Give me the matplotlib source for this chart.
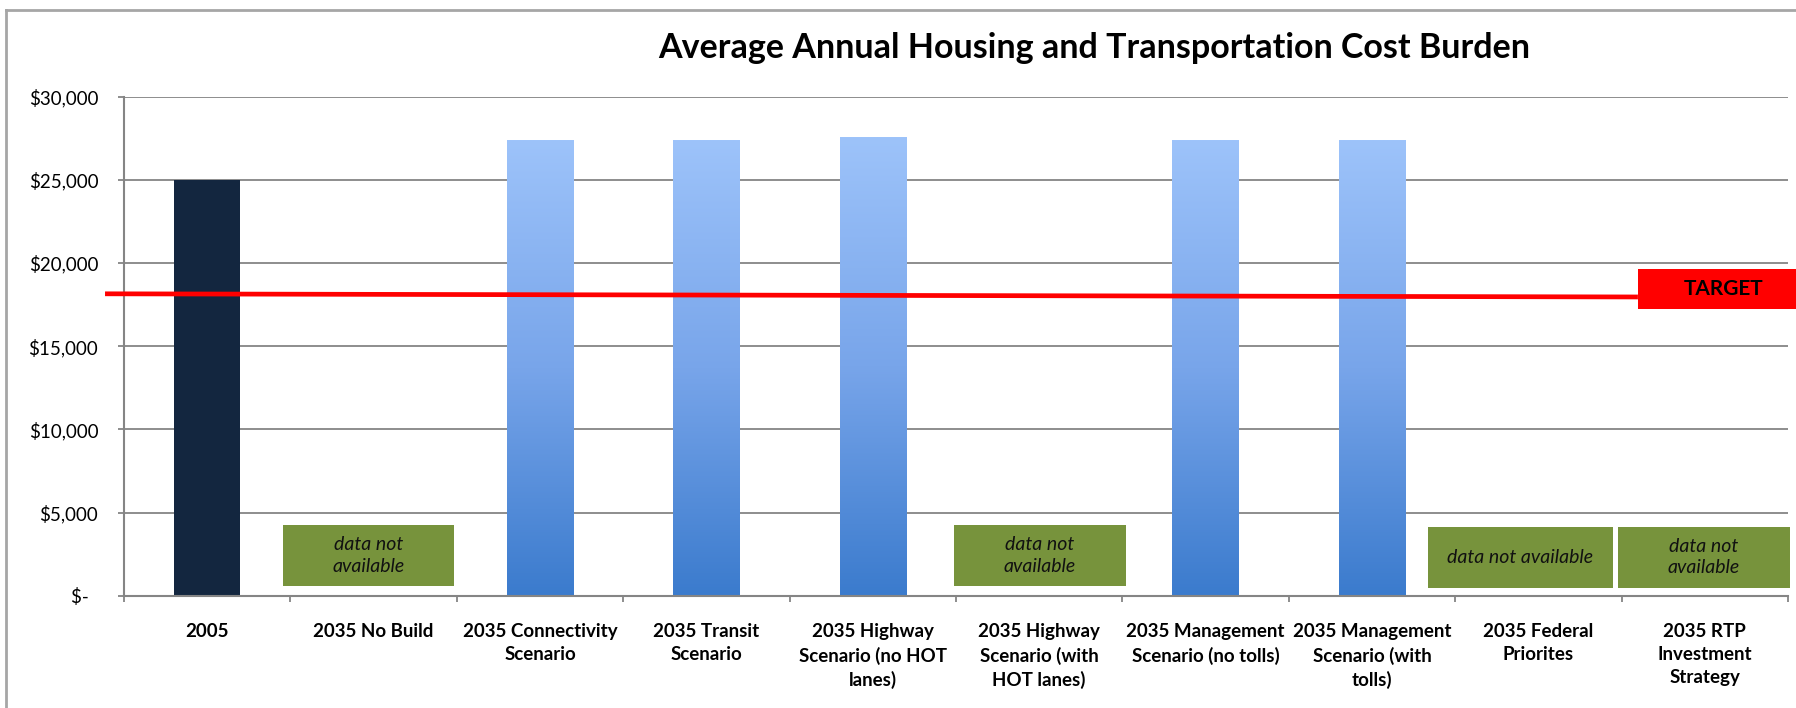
import numpy as np
import matplotlib
matplotlib.use('Agg')
import matplotlib.pyplot as plt
from matplotlib.colors import LinearSegmentedColormap
from matplotlib.patches import Rectangle
from matplotlib.lines import Line2D

# data
categories = ["2005", "2035 No Build", "2035 Connectivity\nScenario", "2035 Transit\nScenario",
              "2035 Highway\nScenario (no HOT\nlanes)", "2035 Highway\nScenario (with\nHOT lanes)",
              "2035 Management\nScenario (no tolls)", "2035 Management\nScenario (with\ntolls)",
              "2035 Federal\nPriorites", "2035 RTP\nInvestment\nStrategy"]
values = [25000, np.nan, 27400, 27400, 27550, np.nan, 27400, 27400, np.nan, np.nan]
target_start = 18150
target_end = 17960
y_ticks = [0, 5000, 10000, 15000, 20000, 25000, 30000]
y_labels = ["$-  ", "$5,000", "$10,000", "$15,000", "$20,000", "$25,000", "$30,000"]

# "data not available" boxes: x0, x1, y0, y1, text
na_boxes = [
    (0.455, 1.483, 583, 4250, "data not\navailable"),
    (4.488, 5.520, 583, 4250, "data not\navailable"),
    (7.336, 8.446, 480, 4130, "data not available"),
    (8.478, 9.510, 480, 4130, "data not\navailable"),
]

plt.rcParams['font.family'] = ['Lato', 'DejaVu Sans']
grid_col = '#858585'

fig = plt.figure(figsize=(17.96, 7.08), dpi=100)
ax = fig.add_axes([124/1796, 112.3/708, (1788-124)/1796, (595.7-96.7)/708])

x = np.arange(len(categories))
bars = ax.bar(x, values, width=0.4, color='#3B7CCF', zorder=2)
bars[0].set_facecolor('#13263F')

# vertical gradient for the 2035 bars
cmap = LinearSegmentedColormap.from_list('blu', ['#3B7BCD', '#78A5EA', '#9DC3FA'])
grad = np.linspace(1, 0, 256).reshape(-1, 1)
for i, b in enumerate(bars):
    if i == 0 or np.isnan(values[i]):
        continue
    x0 = b.get_x()
    ax.imshow(grad, extent=[x0, x0 + b.get_width(), 0, b.get_height()], aspect='auto',
              cmap=cmap, vmin=0, vmax=1, zorder=3)

for x0, x1, y0, y1, txt in na_boxes:
    ax.add_patch(Rectangle((x0, y0), x1 - x0, y1 - y0, facecolor='#77933C', edgecolor='none',
                           zorder=4, clip_on=False))
    ax.text((x0 + x1) / 2, (y0 + y1) / 2, txt, ha='center', va='center', style='italic',
            fontsize=14, color='#111111', linespacing=1.3, zorder=5)

# target line and label
ax.plot([-0.614, 8.598], [target_start, target_end], color='#FF0000', lw=3.4, zorder=6,
        clip_on=False, solid_capstyle='butt')
ax.add_patch(Rectangle((8.598, 17236), 9.548 - 8.598, 19640 - 17236, facecolor='#FF0000',
                       edgecolor='none', zorder=6, clip_on=False))
ax.text(9.115, 18440, "TARGET", ha='center', va='center', fontsize=15, fontweight='bold',
        color='black', zorder=7)

ax.set_xlim(-0.5, 9.5)
ax.set_ylim(0, 30000)
ax.set_yticks(y_ticks)
ax.set_yticklabels(y_labels, fontsize=13.5)
ax.yaxis.grid(True, color=grid_col, lw=1.3)
ax.set_axisbelow(True)

ax.set_xticks(x)
ax.set_xticklabels(categories, fontsize=13.5, fontweight='bold', linespacing=1.4)
ax.set_xticks(np.arange(-0.5, 10, 1), minor=True)
ax.tick_params(axis='x', which='major', length=0, pad=20)
ax.tick_params(axis='x', which='minor', length=4.5, width=1.3, color=grid_col)
ax.tick_params(axis='y', length=4.5, width=1.3, color=grid_col, pad=14)

for s in ['top', 'right']:
    ax.spines[s].set_visible(False)
for s in ['left', 'bottom']:
    ax.spines[s].set_color(grid_col)
    ax.spines[s].set_linewidth(1.5)
ax.spines['bottom'].set_zorder(3)

fig.text(1094/1796, 1 - 48/708, "Average Annual Housing and Transportation Cost Burden",
         ha='center', va='center', fontsize=24.5, fontweight='bold')

# outer frame (left and top edges only)
fig.add_artist(Line2D([6/1796, 6/1796], [0, 1 - 10/708], color='#A6A6A6', lw=2))
fig.add_artist(Line2D([6/1796, 1], [1 - 10/708, 1 - 10/708], color='#A6A6A6', lw=2))

fig.savefig('out.png', dpi=100)
